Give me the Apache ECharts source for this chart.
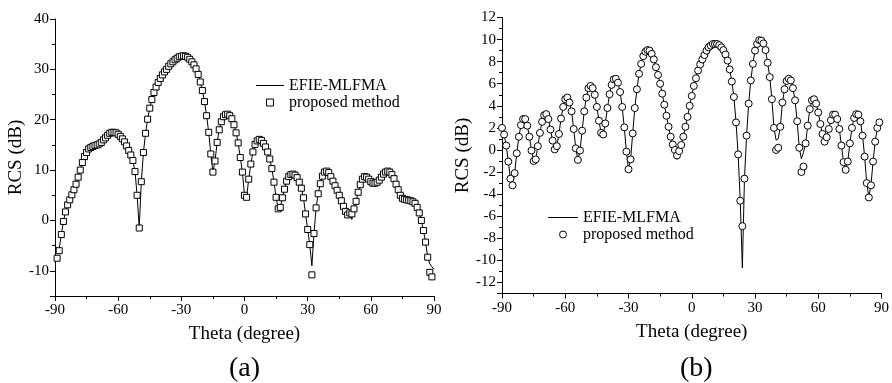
<!DOCTYPE html>
<html>
<head>
<meta charset="utf-8">
<script src="https://cdn.jsdelivr.net/npm/echarts@6/dist/echarts.min.js"></script>
<style>
  html, body { margin: 0; padding: 0; background: #fff; }
  #main { width: 892px; height: 383px; }
</style>
</head>
<body>
<div id="main"></div>
<script>
  // sampling grid: -90 .. 90 deg, 1 deg step
  const theta = []
  for (let t = -90; t <= 90; t++) theta.push(t)

  // (a) RCS in dB, one value per degree from -90
  const efieA = [
    -4.8, -5.9, -5.6, -2.8, -0.2, 1.7, 3.1, 4.1, 5.1, 6.1,
    7.2, 8.6, 10.0, 11.5, 12.7, 13.5, 14.2, 14.5, 14.7, 14.9,
    15.0, 15.2, 15.5, 16.0, 16.4, 16.9, 17.3, 17.5, 17.5, 17.4,
    17.1, 16.7, 16.2, 15.6, 14.8, 13.9, 13.0, 11.9, 9.7, 5.0,
    -1.5, 7.7, 13.5, 17.3, 20.1, 22.3, 24.0, 25.4, 26.5, 27.4,
    28.2, 28.9, 29.5, 30.0, 30.6, 31.1, 31.5, 31.9, 32.2, 32.5,
    32.6, 32.7, 32.6, 32.4, 32.0, 31.5, 30.9, 30.1, 29.0, 27.5,
    25.8, 23.6, 20.8, 17.5, 13.2, 9.6, 11.8, 15.5, 18.0, 19.6,
    20.6, 21.0, 21.1, 20.8, 20.2, 19.0, 17.4, 15.4, 12.5, 9.6,
    5.0, 4.6, 8.2, 11.2, 13.6, 15.1, 15.8, 16.1, 15.9, 15.3,
    14.6, 13.6, 12.2, 10.3, 7.6, 4.6, 2.3, 2.6, 4.5, 6.2,
    7.8, 8.7, 9.1, 9.2, 9.0, 8.5, 7.6, 6.4, 4.5, 1.3,
    -1.8, -4.8, -9.0, -2.6, 2.5, 5.3, 7.3, 8.8, 9.6, 9.8,
    9.5, 8.7, 7.8, 6.9, 6.0, 5.0, 3.9, 2.8, 1.8, 1.1,
    1.4, 0.2, 2.3, 3.8, 5.6, 7.1, 8.2, 8.7, 8.6, 8.2,
    7.7, 7.4, 7.4, 7.6, 8.0, 8.6, 9.2, 9.6, 9.8, 9.6,
    9.1, 8.3, 7.2, 6.1, 5.0, 4.4, 4.2, 4.1, 4.0, 3.9,
    3.7, 3.4, 2.6, 1.5, 0.0, -2.0, -4.3, -7.3, -8.6, -9.2,
    -9.7
  ]
  const propA = [
    null, -7.5, -6.0, -2.8, -0.2, 1.7, 3.1, 4.1, 5.1, 6.1,
    7.2, 8.6, 10.0, 11.5, 12.7, 13.5, 14.2, 14.5, 14.7, 14.9,
    15.0, 15.2, 15.5, 16.0, 16.4, 16.9, 17.3, 17.5, 17.5, 17.4,
    17.1, 16.7, 16.2, 15.6, 14.8, 13.9, 13.0, 11.9, 9.7, 5.0,
    -1.5, 7.7, 13.5, 17.3, 20.1, 22.3, 24.0, 25.4, 26.5, 27.4,
    28.2, 28.9, 29.5, 30.0, 30.6, 31.1, 31.5, 31.9, 32.2, 32.5,
    32.6, 32.7, 32.6, 32.4, 32.0, 31.5, 30.9, 30.1, 29.0, 27.5,
    25.8, 23.6, 20.8, 17.5, 13.2, 9.6, 11.8, 15.5, 18.0, 19.6,
    20.6, 21.0, 21.1, 20.8, 20.2, 19.0, 17.4, 15.4, 12.5, 9.6,
    5.0, 4.6, 8.2, 11.2, 13.6, 15.1, 15.8, 16.1, 15.9, 15.3,
    14.6, 13.6, 12.2, 10.3, 7.6, 4.6, 2.3, 2.6, 4.5, 6.2,
    7.8, 8.7, 9.1, 9.2, 9.0, 8.5, 7.6, 6.4, 4.5, 1.3,
    -1.8, -4.8, -10.8, -2.6, 2.5, 5.3, 7.3, 8.8, 9.6, 9.8,
    9.5, 8.7, 7.8, 6.9, 6.0, 5.0, 3.9, 2.8, 1.8, 1.1,
    1.5, 1.3, 2.3, 3.8, 5.6, 7.1, 8.2, 8.7, 8.6, 8.2,
    7.7, 7.4, 7.4, 7.6, 8.0, 8.6, 9.2, 9.6, 9.8, 9.6,
    9.1, 8.3, 7.2, 6.1, 5.0, 4.4, 4.2, 4.1, 4.0, 3.9,
    3.7, 3.4, 2.6, 1.5, 0.0, -2.0, -4.3, -7.3, -10.3, -11.2,
    null
  ]

  // (b) RCS in dB, one value per degree from -90
  const efieB = [
    2.0, 1.4, 0.4, -1.05, -2.6, -3.2, -2.1, -0.3, 1.2, 2.25,
    2.8, 2.8, 2.2, 1.2, -0.05, -1.0, -0.85, 0.35, 1.55, 2.55,
    3.15, 3.25, 2.8, 1.85, 0.85, 0.05, 0.35, 1.45, 2.85, 3.9,
    4.6, 4.75, 4.3, 3.5, 1.9, 0.15, -0.9, -0.05, 1.75, 3.5,
    4.75, 5.6, 5.8, 5.6, 5.0, 3.9, 2.65, 1.55, 1.4, 2.4,
    3.8, 5.05, 5.9, 6.4, 6.45, 6.1, 5.25, 3.9, 2.05, -0.15,
    -1.75, -0.85, 1.5, 3.8, 5.5, 6.9, 7.8, 8.5, 8.9, 9.05,
    9.0, 8.7, 8.2, 7.5, 6.8, 6.0, 5.1, 4.1, 3.1, 2.1,
    1.2, 0.5, 0.0, -0.85, -0.1, 0.45, 1.2, 2.1, 3.0, 4.0,
    4.9, 5.8, 6.5, 7.2, 7.75, 8.2, 8.6, 9.0, 9.3, 9.45,
    9.6, 9.6, 9.6, 9.5, 9.3, 9.05, 8.65, 8.1, 7.3, 6.2,
    4.8, 2.5, -0.4, -4.6, -10.7, -2.6, 1.3, 4.2, 6.3, 7.8,
    9.0, 9.6, 9.95, 9.9, 9.65, 9.05, 7.9, 6.6, 4.6, 2.0,
    0.9, 1.0, 2.1, 4.3, 5.5, 6.25, 6.45, 6.3, 5.6, 4.5,
    2.6, 0.2, -0.8, -0.2, 0.6, 2.2, 3.7, 4.5, 4.6, 4.2,
    3.4, 2.35, 1.45, 0.75, 1.15, 1.9, 2.7, 3.2, 3.2, 2.8,
    1.9, 0.4, -1.1, -1.8, -1.05, 0.6, 2.0, 2.9, 3.25, 3.2,
    2.6, 1.3, -0.6, -3.0, -4.3, -3.2, -1.05, 0.75, 2.0, 2.5,
    2.6
  ]
  const propB = [
    2.0, 1.4, 0.4, -1.05, -2.6, -3.2, -2.1, -0.3, 1.2, 2.25,
    2.8, 2.8, 2.2, 1.2, -0.05, -1.0, -0.85, 0.35, 1.55, 2.55,
    3.15, 3.25, 2.8, 1.85, 0.85, 0.05, 0.35, 1.45, 2.85, 3.9,
    4.6, 4.75, 4.3, 3.5, 1.9, 0.15, -0.9, -0.05, 1.75, 3.5,
    4.75, 5.6, 5.8, 5.6, 5.0, 3.9, 2.65, 1.55, 1.4, 2.4,
    3.8, 5.05, 5.9, 6.4, 6.45, 6.1, 5.25, 3.9, 2.05, -0.15,
    -1.75, -0.85, 1.5, 3.8, 5.5, 6.9, 7.8, 8.5, 8.9, 9.05,
    9.0, 8.7, 8.2, 7.5, 6.8, 6.0, 5.1, 4.1, 3.1, 2.1,
    1.2, 0.5, 0.0, -0.5, -0.1, 0.45, 1.2, 2.1, 3.0, 4.0,
    4.9, 5.8, 6.5, 7.2, 7.75, 8.2, 8.6, 9.0, 9.3, 9.45,
    9.6, 9.6, 9.6, 9.5, 9.3, 9.05, 8.65, 8.1, 7.3, 6.2,
    4.8, 2.5, -0.4, -4.6, -6.9, -2.6, 1.3, 4.2, 6.3, 7.8,
    9.0, 9.6, 9.95, 9.9, 9.65, 9.05, 7.9, 6.6, 4.6, 2.0,
    0.0, 0.2, 2.1, 4.3, 5.5, 6.25, 6.45, 6.3, 5.6, 4.5,
    2.6, 0.2, -2.0, -1.5, 0.6, 2.2, 3.7, 4.5, 4.6, 4.2,
    3.4, 2.35, 1.45, 0.75, 1.15, 1.9, 2.7, 3.2, 3.2, 2.8,
    1.9, 0.4, -1.1, -1.8, -1.05, 0.6, 2.0, 2.9, 3.25, 3.2,
    2.6, 1.3, -0.6, -3.0, -4.3, -3.2, -1.05, 0.75, 2.0, 2.5,
    null
  ]

  const seriesNames = ['EFIE-MLFMA', 'proposed method']
  const panelLabels = ['(a)', '(b)']

  const font = 'Liberation Serif'
  const black = '#000'

  function pairs(ys) {
    const out = []
    for (let i = 0; i < theta.length; i++) {
      if (ys[i] !== null) out.push([theta[i], ys[i]])
    }
    return out
  }

  function xAxisOf(gridIndex) {
    return {
      type: 'value', gridIndex: gridIndex,
      min: -90, max: 90, interval: 30,
      name: 'Theta (degree)', nameLocation: 'middle', nameGap: 29,
      nameTextStyle: { fontFamily: font, fontSize: 19, color: black },
      axisLine: { onZero: false, lineStyle: { color: black, width: 1 } },
      axisTick: { length: 5, lineStyle: { color: black } },
      minorTick: { show: true, splitNumber: 2, length: 3, lineStyle: { color: black } },
      axisLabel: { fontFamily: font, fontSize: 15, color: black, margin: 7 },
      splitLine: { show: false }
    }
  }

  function yAxisOf(gridIndex, min, max, splitNumber, nameGap) {
    return {
      type: 'value', gridIndex: gridIndex,
      min: min, max: max, splitNumber: splitNumber,
      name: 'RCS (dB)', nameLocation: 'middle', nameGap: nameGap,
      nameTextStyle: { fontFamily: font, fontSize: 19, color: black },
      axisLine: { onZero: false, lineStyle: { color: black, width: 1 } },
      axisTick: { length: 5, lineStyle: { color: black } },
      minorTick: { show: true, splitNumber: 2, length: 3, lineStyle: { color: black } },
      axisLabel: { fontFamily: font, fontSize: 15, color: black, margin: 6, showMinLabel: false },
      splitLine: { show: false }
    }
  }

  // legend: thin bar for the solver line, open marker for the method
  function legendOf(left, top, width, markerIcon) {
    return {
      orient: 'vertical', left: left, top: top,
      itemWidth: width, itemHeight: 7, itemGap: 0,
      selectedMode: false, padding: 0,
      textStyle: { fontFamily: font, fontSize: 16, color: black, lineHeight: 17 },
      data: [
        { name: seriesNames[0], icon: 'path://M0,0L' + width + ',0L' + width + ',1L0,1Z',
          itemStyle: { color: black, borderWidth: 0 } },
        { name: seriesNames[1], icon: markerIcon,
          itemStyle: { color: '#fff', borderColor: black, borderWidth: 1 } }
      ]
    }
  }

  const chart = echarts.init(document.getElementById('main'))
  const option = {
    animation: false,
    backgroundColor: '#fff',
    grid: [
      { left: 55, top: 19, width: 379, height: 277 },
      { left: 502, top: 17.5, width: 380, height: 276 }
    ],
    xAxis: [xAxisOf(0), xAxisOf(1)],
    yAxis: [yAxisOf(0, -15, 40, 6, 24), yAxisOf(1, -13, 12, 12, 20)],
    legend: [
      legendOf(256, 77, 28, 'path://M0,0L10,0L10,10L0,10Z'),
      legendOf(548, 209, 30, 'circle')
    ],
    title: [
      { text: panelLabels[0], left: 229, top: 355, padding: 0,
        textStyle: { fontFamily: font, fontSize: 28, fontWeight: 'normal', color: black } },
      { text: panelLabels[1], left: 680, top: 355, padding: 0,
        textStyle: { fontFamily: font, fontSize: 28, fontWeight: 'normal', color: black } }
    ],
    series: [
      {
        name: seriesNames[0], type: 'line', xAxisIndex: 0, yAxisIndex: 0, z: 2,
        data: pairs(efieA), symbol: 'none',
        lineStyle: { color: black, width: 1 }, itemStyle: { color: black }
      },
      {
        name: seriesNames[1], type: 'scatter', xAxisIndex: 0, yAxisIndex: 0, z: 5,
        data: pairs(propA), symbol: 'rect', symbolSize: 6,
        itemStyle: { color: '#fff', borderColor: black, borderWidth: 1, opacity: 1 }
      },
      {
        name: seriesNames[0], type: 'line', xAxisIndex: 1, yAxisIndex: 1, z: 2,
        data: pairs(efieB), symbol: 'none',
        lineStyle: { color: black, width: 1 }, itemStyle: { color: black }
      },
      {
        name: seriesNames[1], type: 'scatter', xAxisIndex: 1, yAxisIndex: 1, z: 5,
        data: pairs(propB), symbol: 'circle', symbolSize: 7,
        itemStyle: { color: '#fff', borderColor: black, borderWidth: 1, opacity: 1 }
      }
    ]
  }
  chart.setOption(option)
</script>
</body>
</html>
